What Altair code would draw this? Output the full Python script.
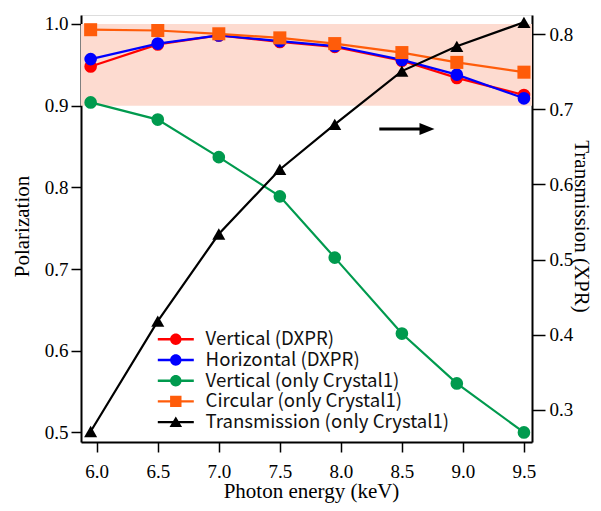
import altair as alt
import pandas as pd

# ---- data ----
energy = [5.95, 6.5, 7.0, 7.5, 7.95, 8.5, 8.95, 9.5]
vertical_dxpr = [0.948, 0.975, 0.986, 0.978, 0.972, 0.955, 0.934, 0.913]
horizontal_dxpr = [0.957, 0.976, 0.986, 0.979, 0.973, 0.956, 0.938, 0.909]
vertical_c1 = [0.904, 0.883, 0.837, 0.789, 0.714, 0.621, 0.560, 0.500]
circular_c1 = [0.993, 0.992, 0.988, 0.983, 0.976, 0.965, 0.953, 0.941]
transmission_c1 = [0.271, 0.418, 0.534, 0.620, 0.680, 0.751, 0.784, 0.816]

series_names = ["Vertical (DXPR)", "Horizontal (DXPR)", "Vertical (only Crystal1)",
                "Circular (only Crystal1)", "Transmission (only Crystal1)"]
series_colors = ["#ff0000", "#0000ff", "#009a4e", "#ff5c0a", "#000000"]
series_shapes = ["circle", "circle", "circle", "square", "triangle-up"]
series_sizes = [160, 160, 160, 170, 170]

band_range = [0.9, 1.0]
arrow_x = [8.315, 8.718]
arrow_y = 0.8715

x_ticks = [6.0, 6.5, 7.0, 7.5, 8.0, 8.5, 9.0, 9.5]
left_ticks = [0.5, 0.6, 0.7, 0.8, 0.9, 1.0]
right_ticks = [0.3, 0.4, 0.5, 0.6, 0.7, 0.8]
x_domain = [5.871, 9.566]
left_domain = [0.4883, 1.011]
right_domain = [0.257, 0.8257]

# ---- styling ----
SERIF = "Liberation Serif"
LEG_FONT = "Noto Sans CJK JP"
BAND_COLOR = "#fddbd0"

circle_leg = ("M-3,-0.2H3V0.2H-3Z M0.95,0A0.95,0.95 0 1,1 -0.95,0A0.95,0.95 0 1,1 0.95,0Z")
square_leg = "M-3,-0.2H3V0.2H-3Z M-0.95,-0.95H0.95V0.95H-0.95Z"
tri_leg = "M-3,-0.2H3V0.2H-3Z M0,-0.95L1.05,0.8L-1.05,0.8Z"
legend_paths = [circle_leg, circle_leg, circle_leg, square_leg, tri_leg]
arrow_head_path = "M1,0L-1.5,-1L-1.5,1Z"

axis_common = dict(grid=False, tickWidth=1.5, tickColor="black",
                   domainColor="black", domainWidth=2,
                   labelFont=SERIF, labelFontSize=19, labelColor="black",
                   titleFont=SERIF, titleFontSize=21, titleFontWeight="normal",
                   titleColor="black", titleBaseline="alphabetic", format=".1f")

x_scale = alt.Scale(domain=x_domain, nice=False, zero=False)
yl_scale = alt.Scale(domain=left_domain, nice=False, zero=False)
yr_scale = alt.Scale(domain=right_domain, nice=False, zero=False)

x_axis = alt.Axis(values=x_ticks, title="Photon energy (keV)", tickSize=10,
                  labelPadding=10.5, titleX=230, titleY=55.5, **axis_common)
yl_axis = alt.Axis(values=left_ticks, title="Polarization", orient="left", tickSize=10,
                   labelPadding=3, titleX=-53, titleY=211, **axis_common)
yr_axis = alt.Axis(values=right_ticks, title="Transmission (XPR)", orient="right",
                   tickSize=13, labelPadding=4, titleX=42, titleY=211, **axis_common)


def X(field):
    return alt.X(field, type="quantitative", scale=x_scale, axis=x_axis)


def YL(field):
    return alt.Y(field, type="quantitative", scale=yl_scale, axis=yl_axis)


def YR(field):
    return alt.Y(field, type="quantitative", scale=yr_scale, axis=yr_axis)


# shaded band 0.9-1.0
band_df = pd.DataFrame({"lo": [band_range[0]], "hi": [band_range[1]]})
band = alt.Chart(band_df).mark_rect(color=BAND_COLOR).encode(
    x=alt.value(0), x2=alt.value("width"), y=YL("lo"), y2="hi"
)

left_values = [vertical_dxpr, horizontal_dxpr, vertical_c1, circular_c1]
left_layers = [band]
for i, vals in enumerate(left_values):
    df = pd.DataFrame({"energy": energy, "value": vals})
    base = alt.Chart(df)
    left_layers.append(base.mark_line(color=series_colors[i], strokeWidth=2.2).encode(
        x=X("energy"), y=YL("value")))
    left_layers.append(base.mark_point(color=series_colors[i], filled=True, opacity=1,
                                       shape=series_shapes[i], size=series_sizes[i]).encode(
        x=X("energy"), y=YL("value")))

# arrow pointing to the right axis
arrow_df = pd.DataFrame({"x0": [arrow_x[0]], "x1": [arrow_x[1]], "y": [arrow_y]})
arrow_rule = alt.Chart(arrow_df).mark_rule(color="black", strokeWidth=3).encode(
    x=X("x0"), x2="x1", y=YL("y"))
arrow_head = alt.Chart(arrow_df).mark_point(shape=arrow_head_path, filled=True, color="black",
                                            opacity=1, size=144).encode(
    x=X("x1"), y=YL("y"))
left_layers += [arrow_rule, arrow_head]

# legend-only layer (invisible points, custom legend symbols)
leg = alt.Legend(orient="none", legendX=85.5, legendY=315, title=None, padding=0,
                 symbolSize=144, symbolStrokeWidth=0, symbolOffset=0, symbolOpacity=1,
                 labelFont=LEG_FONT, labelFontSize=18.6, labelColor="#111111",
                 labelOffset=20.5, rowPadding=1.7, labelLimit=400)
legend_df = pd.DataFrame({"series": series_names})
legend_layer = alt.Chart(legend_df).mark_point(filled=True, opacity=1).encode(
    color=alt.Color("series:N", scale=alt.Scale(domain=series_names, range=series_colors),
                    legend=leg),
    shape=alt.Shape("series:N", scale=alt.Scale(domain=series_names, range=legend_paths),
                    legend=leg),
    size=alt.value(0),
)
left_layers.append(legend_layer)

left = alt.layer(*left_layers)

# right axis: transmission
trans_df = pd.DataFrame({"energy": energy, "value": transmission_c1})
tbase = alt.Chart(trans_df)
right = alt.layer(
    tbase.mark_line(color="black", strokeWidth=2.2).encode(x=X("energy"), y=YR("value")),
    tbase.mark_point(color="black", filled=True, opacity=1, shape="triangle-up",
                     size=series_sizes[4]).encode(x=X("energy"), y=YR("value")),
)

chart = alt.layer(left, right).resolve_scale(y="independent").properties(
    width=451, height=427,
    padding={"left": 73, "top": 7, "right": 61, "bottom": 61},
    autosize=alt.AutoSizeParams(type="none"),
).configure_view(stroke="black", strokeWidth=2).configure(background="white")

chart.save("out.html", embed_options={"renderer": "svg", "actions": False})
